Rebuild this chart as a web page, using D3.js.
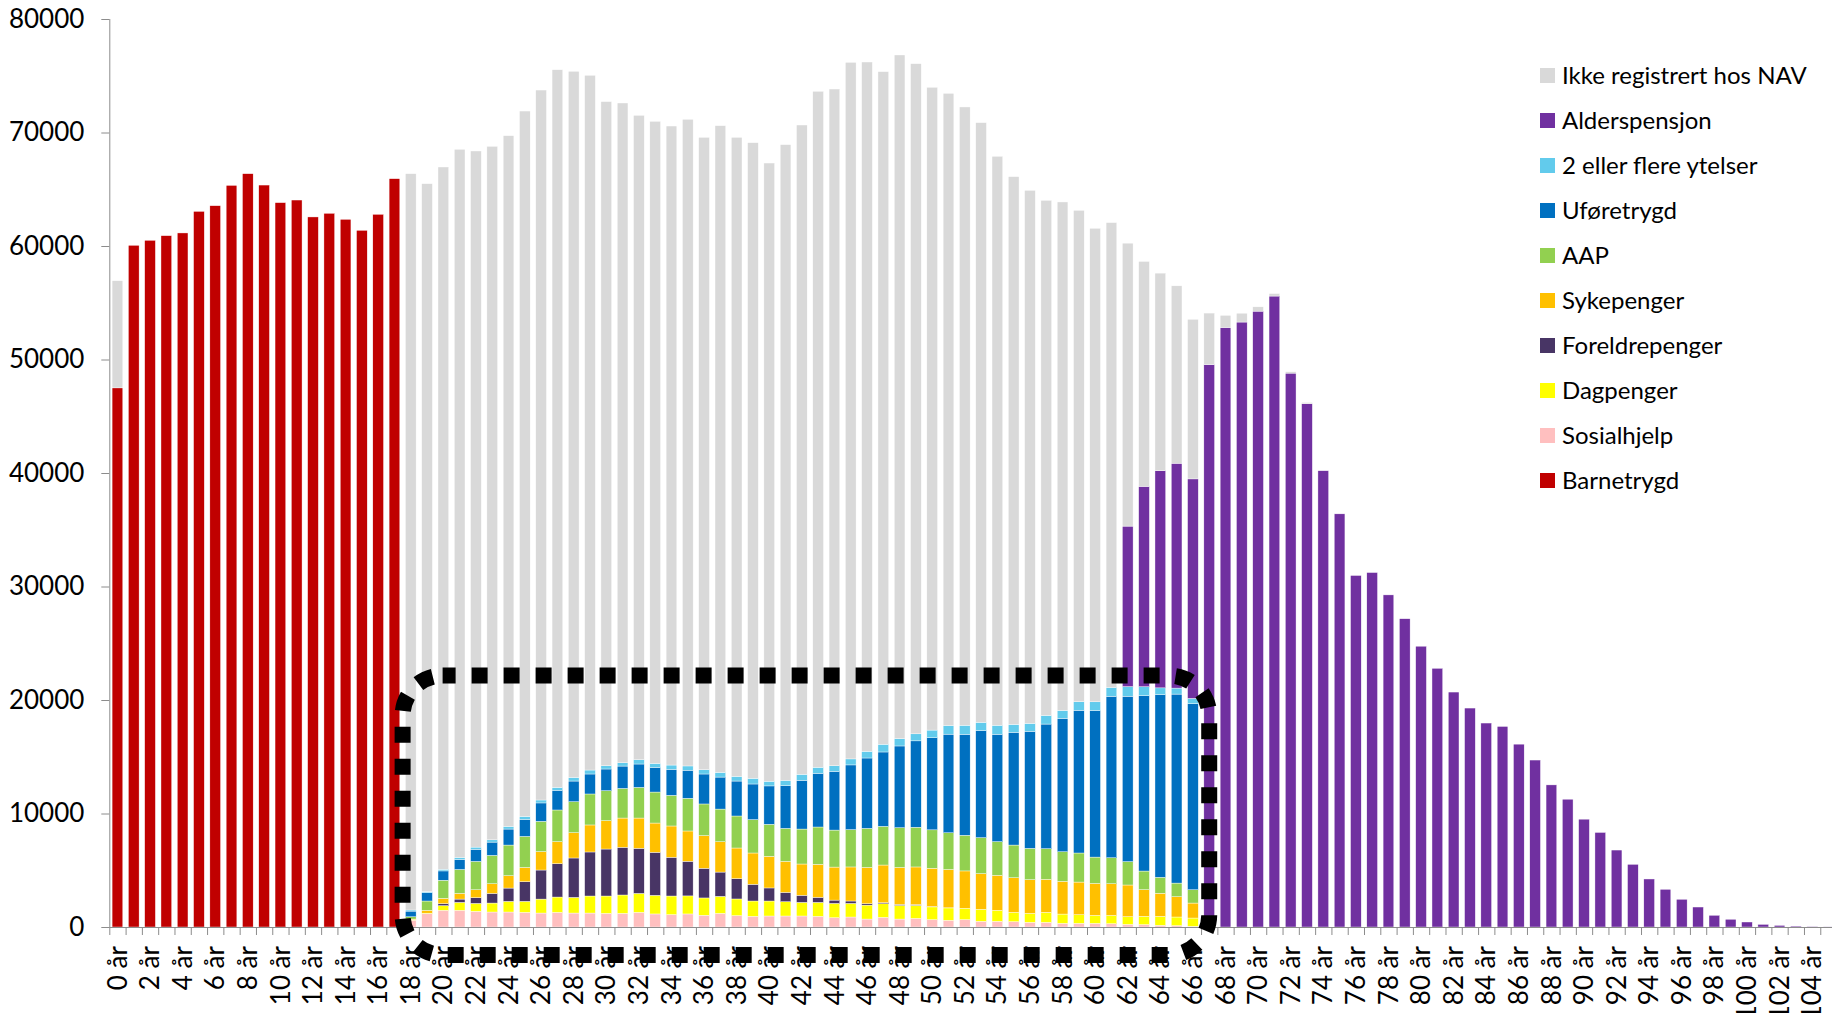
<!DOCTYPE html>
<html>
<head>
<meta charset="utf-8">
<script src="https://cdnjs.cloudflare.com/ajax/libs/d3/7.8.5/d3.min.js"></script>
<style>
  html, body { margin: 0; padding: 0; background: #fff; }
  svg { display: block; }
  text { font-family: "Lato", "Open Sans", sans-serif; fill: #000; }
</style>
</head>
<body>
<svg id="chart" width="1832" height="1013"></svg>
<script>
// ---------- DATA ----------
const N_AGES = 106; // 0 år .. 105 år
const ages = d3.range(N_AGES);
const ageLabels = ages.map(a => a + " år");
const yTicks = [0, 10000, 20000, 30000, 40000, 50000, 60000, 70000, 80000];

// values given with the first age they belong to
const barnetrygdStart = 0;
const barnetrygd = [47500,60060,60500,60910,61150,63050,63550,65340,66370,65370,63820,64050,62560,62880,62350,61380,62790,65930];

const ytelseStart = 18; // ages 18..66
const sosialhjelp = [600,1170,1470,1470,1380,1320,1320,1290,1230,1290,1230,1230,1200,1200,1290,1150,1090,1150,1030,1200,1000,940,970,970,970,940,820,880,700,850,700,760,650,590,650,500,500,470,410,410,320,320,320,290,230,210,150,120,60];
const dagpenger = [50,50,410,700,700,790,940,970,1230,1350,1380,1500,1530,1620,1670,1640,1640,1590,1530,1500,1470,1350,1320,1260,1200,1230,1260,1200,1230,1200,1200,1150,1120,1090,1000,1060,970,820,790,880,820,760,700,730,680,730,790,760,730];
const foreldrepenger = [0,0,180,290,500,850,1170,1730,2560,2940,3470,3880,4140,4200,3970,3790,3410,3050,2610,2140,1790,1470,1150,820,620,440,290,210,120,90,90,60,30,10];
const sykepenger = [50,250,470,500,700,850,1090,1260,1620,1940,2230,2380,2500,2580,2670,2580,2760,2670,2880,2670,2700,2760,2790,2730,2760,2910,2910,3000,3200,3320,3260,3320,3380,3380,3290,3140,3080,3050,2970,2910,2880,2880,2820,2790,2790,2350,2030,1790,1320];
const aap = [200,820,1590,2110,2500,2500,2700,2730,2670,2790,2730,2730,2640,2610,2700,2730,2700,2880,2790,2880,2820,2940,2820,2910,3080,3290,3260,3290,3440,3410,3500,3500,3380,3230,3140,3170,2970,2880,2760,2700,2610,2560,2320,2290,2060,1640,1410,1200,1170];
const uforetrygd = [500,730,820,880,1060,1170,1410,1500,1620,1730,1820,1760,1910,1970,2060,2170,2290,2470,2640,2820,3080,3140,3380,3760,4290,4730,5170,5700,6200,6550,7200,7610,8110,8690,8900,9430,9460,9930,10310,10980,11750,12570,12920,14220,14570,15450,16100,16650,16390];
const flereYtelser = [100,100,150,180,200,200,230,260,260,260,320,350,290,290,380,350,380,380,380,410,410,500,410,470,530,530,500,530,590,680,650,620,680,760,790,730,790,700,700,760,700,760,760,790,850,790,590,530,470];

const alderStart = 62; // ages 62..105
const alderspensjon = [14140,17650,19130,19810,19340,49550,52820,53300,54260,55590,48800,46100,40200,36400,30970,31230,29260,27160,24740,22790,20700,19290,17970,17670,16110,14710,12520,11260,9500,8330,6780,5520,4230,3320,2440,1760,1030,680,440,230,140,80,40,20];

const ikkeStartA = 0;
const ikkeRegistrertA = [9440];
const ikkeStartB = 18; // ages 18..73
const ikkeRegistrertB = [64870,62370,61870,62390,61330,61100,60860,62150,62550,63230,62210,61210,58510,58130,56770,56570,56300,56970,55710,56980,56300,56000,54470,56010,57210,59560,59620,61370,60730,59260,60230,59040,56630,55700,54480,52840,50130,48260,46960,45380,44800,43290,41720,40950,24930,19820,17410,15630,14060,4540,1070,780,380,220,120,110];

const seriesKeys = ["Barnetrygd","Sosialhjelp","Dagpenger","Foreldrepenger","Sykepenger","AAP","Uføretrygd","2 eller flere ytelser","Alderspensjon","Ikke registrert hos NAV"];
const seriesColors = ["#C00000","#FFBFBF","#FFFF00","#483565","#FFC000","#92D050","#0070C0","#62CBEC","#7030A0","#D9D9D9"];

// ---------- BUILD TABLE ----------
function place(start, vals) {
  const arr = new Array(N_AGES).fill(0);
  vals.forEach((v, i) => { arr[start + i] = v; });
  return arr;
}
const ikkeFull = place(ikkeStartA, ikkeRegistrertA);
place(ikkeStartB, ikkeRegistrertB).forEach((v, i) => { if (v) ikkeFull[i] = v; });
const seriesArrays = {
  "Barnetrygd": place(barnetrygdStart, barnetrygd),
  "Sosialhjelp": place(ytelseStart, sosialhjelp),
  "Dagpenger": place(ytelseStart, dagpenger),
  "Foreldrepenger": place(ytelseStart, foreldrepenger),
  "Sykepenger": place(ytelseStart, sykepenger),
  "AAP": place(ytelseStart, aap),
  "Uføretrygd": place(ytelseStart, uforetrygd),
  "2 eller flere ytelser": place(ytelseStart, flereYtelser),
  "Alderspensjon": place(alderStart, alderspensjon),
  "Ikke registrert hos NAV": ikkeFull
};
const rows = ages.map(a => {
  const r = { age: a };
  seriesKeys.forEach(k => { r[k] = seriesArrays[k][a]; });
  return r;
});

// ---------- LAYOUT ----------
const svg = d3.select("#chart");
const plotLeft = 109.3, catStep = 16.295, plotTop = 19, plotBottom = 927;
const plotRight = plotLeft + N_AGES * catStep; // extends past the right edge (cropped like the original)

const x = d3.scaleBand().domain(ages).range([plotLeft, plotRight]).paddingInner(0.343).paddingOuter(0.1715);
const xBound = d3.scaleLinear().domain([0, N_AGES]).range([plotLeft, plotRight]);
const y = d3.scaleLinear().domain([0, 80000]).range([plotBottom, plotTop]);
const color = d3.scaleOrdinal().domain(seriesKeys).range(seriesColors);

const stacked = d3.stack().keys(seriesKeys)(rows);

// bars
svg.append("g").selectAll("g").data(stacked).join("g")
  .attr("fill", d => color(d.key))
  .selectAll("rect").data(d => d.filter(s => s[1] - s[0] > 0)).join("rect")
  .attr("x", d => x(d.data.age))
  .attr("width", x.bandwidth())
  .attr("y", d => y(d[1]))
  .attr("height", d => y(d[0]) - y(d[1]))
  .attr("stroke", "#ffffff")
  .attr("stroke-width", 0.4);

// axes
const axisColor = "#8c8c8c";
const yAxis = svg.append("g").attr("transform", `translate(${plotLeft},0)`)
  .call(d3.axisLeft(y).tickValues(yTicks).tickSize(8).tickPadding(17).tickFormat(d3.format("d")));
yAxis.select(".domain").attr("stroke", axisColor).attr("d", `M0.5,${plotTop}V${plotBottom}`);
yAxis.selectAll(".tick line").attr("stroke", axisColor);
yAxis.selectAll(".tick text").attr("font-size", 26).attr("font-family", "Lato, 'Open Sans', sans-serif").attr("fill", "#000");

const xAxis = svg.append("g").attr("transform", `translate(0,${plotBottom})`)
  .call(d3.axisBottom(xBound).tickValues(d3.range(0, N_AGES + 1)).tickSize(8).tickFormat(""));
xAxis.select(".domain").attr("stroke", axisColor).attr("d", `M${plotLeft},0.5H${plotRight}`);
xAxis.selectAll(".tick line").attr("stroke", axisColor);

// x labels (every second age)
svg.append("g").selectAll("text").data(ages.filter(a => a % 2 === 0)).join("text")
  .attr("transform", a => `translate(${x(a) + x.bandwidth() / 2},${plotBottom + 19}) rotate(-90)`)
  .attr("text-anchor", "end")
  .attr("dy", "0.35em")
  .attr("font-size", 26)
  .text(a => ageLabels[a]);

// annotation: dotted rounded rectangle around the working-age stacks
const annLeft = xBound(18), annRight = x(67) + x.bandwidth() / 2;
const annTop = y(22150), annBottom = plotBottom + 28;
svg.append("rect")
  .attr("x", annLeft).attr("y", annTop)
  .attr("width", annRight - annLeft).attr("height", annBottom - annTop)
  .attr("rx", 40).attr("ry", 40)
  .attr("fill", "none").attr("stroke", "#000")
  .attr("stroke-width", 16).attr("stroke-dasharray", "16 16").attr("stroke-dashoffset", 3);

// legend
const legendKeys = seriesKeys.slice().reverse();
const lg = svg.append("g").attr("transform", "translate(1540,68)");
const li = lg.selectAll("g").data(legendKeys).join("g").attr("transform", (d, i) => `translate(0,${i * 45})`);
li.append("rect").attr("width", 15).attr("height", 15).attr("fill", d => color(d));
li.append("text").attr("x", 22).attr("y", 15.5).attr("font-size", 24).text(d => d);
</script>
</body>
</html>
